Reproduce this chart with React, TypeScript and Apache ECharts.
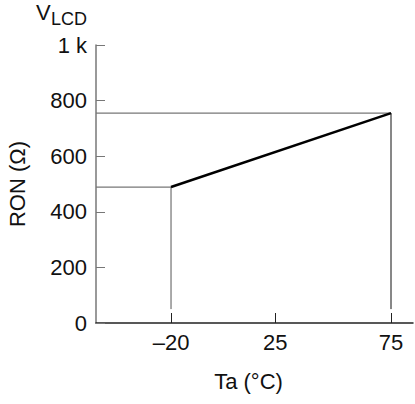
import React, { useEffect, useRef } from "react";
import * as echarts from "echarts";

const xTicks = [-20, 25, 75];
const yTicks = [0, 200, 400, 600, 800, 1000];
const lineX = [-20, 75];
const lineY = [489, 755];
const dropEnd = 50;
const X_MIN = -52.4;
const X_MAX = 84.5;

const FONT = "Liberation Sans, Arial, sans-serif";

export default function App() {
  const ref = useRef<HTMLDivElement>(null);
  useEffect(() => {
    if (!ref.current) return;
    const chart = echarts.init(ref.current, undefined, { renderer: "svg" });
    const gray = "#777";
    chart.setOption({
      animation: false,
      backgroundColor: "#fff",
      textStyle: { fontFamily: FONT },
      grid: { left: 96, right: 2, top: 45, bottom: 81, containLabel: false, outerBoundsMode: "none" },
      xAxis: {
        type: "value",
        min: X_MIN,
        max: X_MAX,
        name: "Ta (°C)",
        nameLocation: "middle",
        nameGap: 47,
        nameTextStyle: { fontSize: 22, color: "#111", fontFamily: FONT, padding: [0, 12, 0, 0] },
        axisLine: { show: true, onZero: false, lineStyle: { color: "#222", width: 1.5 } },
        axisTick: { show: true, inside: true, length: 10, customValues: xTicks, lineStyle: { color: "#222", width: 1 } },
        axisLabel: {
          customValues: xTicks,
          margin: 8,
          fontSize: 22,
          color: "#111",
          fontFamily: FONT,
          formatter: (v: number) => (v < 0 ? "\u2013" + Math.abs(v) : String(v)),
        },
        splitLine: { show: false },
      },
      yAxis: {
        type: "value",
        min: 0,
        max: 1000,
        interval: 200,
        name: "RON (Ω)",
        nameLocation: "middle",
        nameGap: 68,
        nameTextStyle: { fontSize: 22, color: "#111", fontFamily: FONT },
        axisLine: { show: true, onZero: false, lineStyle: { color: gray, width: 1.5 } },
        axisTick: { show: true, inside: true, length: 9, lineStyle: { color: gray, width: 1 } },
        axisLabel: {
          margin: 9,
          fontSize: 22,
          color: "#111",
          fontFamily: FONT,
          formatter: (v: number) => (v === 1000 ? "1 k" : String(v)),
        },
        splitLine: { show: false },
      },
      graphic: [
        { type: "text", left: 36, top: 1, style: { text: "V", fontSize: 22, fill: "#111", fontFamily: FONT } },
        { type: "text", left: 51, top: 10, style: { text: "LCD", fontSize: 18, fill: "#111", fontFamily: FONT } },
      ],
      series: [
        {
          type: "line",
          data: [[X_MIN, lineY[1]], [lineX[1], lineY[1]]],
          symbol: "none",
          lineStyle: { color: gray, width: 1.2 },
          silent: true,
        },
        {
          type: "line",
          data: [[X_MIN, lineY[0]], [lineX[0], lineY[0]]],
          symbol: "none",
          lineStyle: { color: gray, width: 1.2 },
          silent: true,
        },
        {
          type: "line",
          data: [[lineX[0], lineY[0]], [lineX[0], dropEnd]],
          symbol: "none",
          lineStyle: { color: "#555", width: 1 },
          silent: true,
        },
        {
          type: "line",
          data: [[lineX[1], lineY[1]], [lineX[1], dropEnd]],
          symbol: "none",
          lineStyle: { color: "#111", width: 1 },
          silent: true,
        },
        {
          type: "line",
          data: lineX.map((x, i) => [x, lineY[i]]),
          symbol: "none",
          lineStyle: { color: "#000", width: 2.5 },
          silent: true,
          z: 5,
        },
      ],
    });
    return () => chart.dispose();
  }, []);
  return (
    <div
      ref={ref}
      style={{ position: "fixed", left: 0, top: 0, width: 415, height: 404 }}
    />
  );
}
